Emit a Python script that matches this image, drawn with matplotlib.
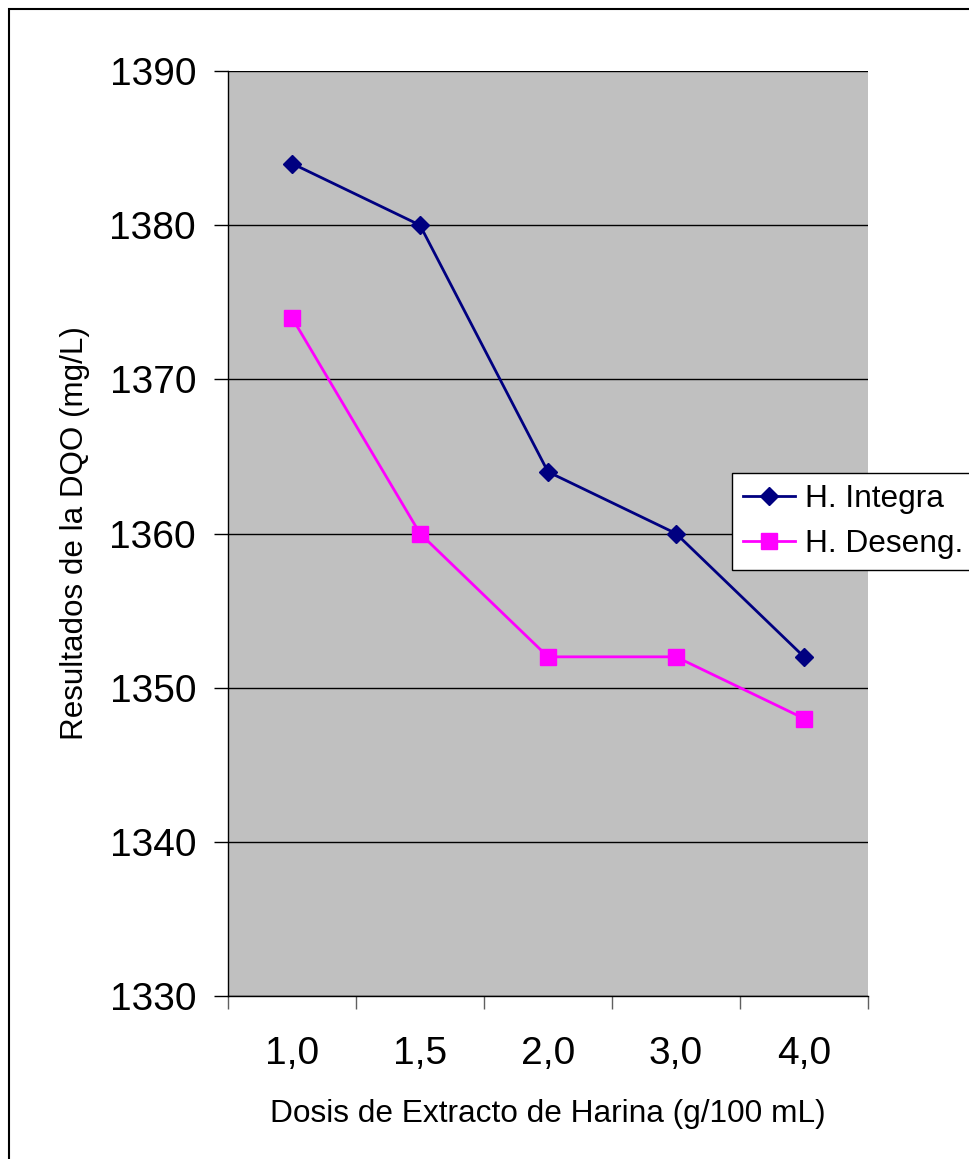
import matplotlib.pyplot as plt
from matplotlib.patches import Rectangle

plt.rcParams['font.family'] = ['Liberation Sans', 'DejaVu Sans']

# Dose categories and measured COD values
dosis = ['1,0', '1,5', '2,0', '3,0', '4,0']
h_integra = [1384, 1380, 1364, 1360, 1352]
h_deseng = [1374, 1360, 1352, 1352, 1348]
y_ticks = [1330, 1340, 1350, 1360, 1370, 1380, 1390]

fig = plt.figure(figsize=(9.7, 11.59), dpi=100)
ax = fig.add_axes([228 / 970, 1 - 996 / 1159, 640 / 970, 925 / 1159])
ax.set_facecolor('#C0C0C0')

x = range(len(dosis))
ax.plot(x, h_integra, color='#000080', lw=2, marker='D', ms=9,
        label='H. Integra', zorder=3)
ax.plot(x, h_deseng, color='#FF00FF', lw=2, marker='s', ms=11,
        label='H. Deseng.', zorder=3)

ax.set_xlim(-0.5, len(dosis) - 0.5)
ax.set_ylim(1330, 1390)
ax.set_yticks(y_ticks)
ax.yaxis.grid(True, color='black', lw=1)
ax.set_axisbelow(True)

# category labels between the boundary ticks
ax.set_xticks([i - 0.5 for i in range(len(dosis) + 1)])
ax.set_xticklabels([])
ax.set_xticks(list(x), minor=True)
ax.set_xticklabels(dosis, minor=True, fontsize=28)
ax.tick_params(axis='x', which='major', length=9, width=1, color='#606060')
ax.tick_params(axis='x', which='minor', length=0, pad=29)
ax.tick_params(axis='y', length=10, width=1, labelsize=28, pad=13)

for s in ['top', 'right']:
    ax.spines[s].set_visible(False)
for s in ['left', 'bottom']:
    ax.spines[s].set_linewidth(1)

ax.set_xlabel('Dosis de Extracto de Harina (g/100 mL)', fontsize=22.8, labelpad=19)
ax.set_ylabel('Resultados de la DQO (mg/L)', fontsize=22.6, labelpad=14)

leg = fig.legend(loc='upper left', bbox_to_anchor=(732 / 970, 1 - 473 / 1159),
                 fontsize=22.8, frameon=True, fancybox=False, edgecolor='black',
                 framealpha=1, borderpad=0.35, handlelength=1.65, handletextpad=0.3,
                 labelspacing=0.48, borderaxespad=0)
leg.get_frame().set_linewidth(1)

# chart border
fig.patches.append(Rectangle((9 / 970, -0.01), 1.0, 1 - 9 / 1159 + 0.01,
                             transform=fig.transFigure, fill=False,
                             edgecolor='black', lw=1.5))

fig.savefig('out.png', dpi=100)
